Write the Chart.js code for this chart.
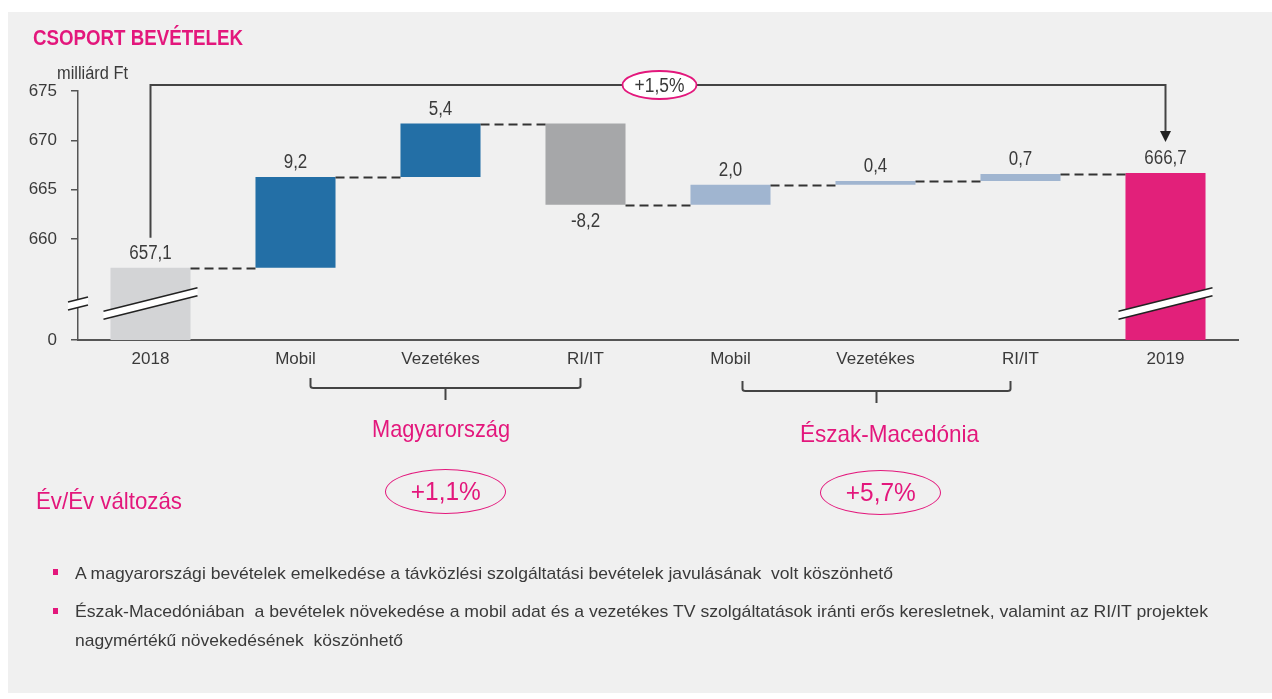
<!DOCTYPE html>
<html>
<head>
<meta charset="utf-8">
<script src="https://cdn.jsdelivr.net/npm/chart.js@4.4.1/dist/chart.umd.min.js"></script>
<style>
  html, body { margin:0; padding:0; width:1272px; height:699px; background:#ffffff; overflow:hidden; }
  body { position:relative; font-family:"Liberation Sans", Arial, Helvetica, sans-serif; }
  #panel { position:absolute; left:8px; top:12px; width:1264px; height:681px; background:#f0f0f0; }
  #c { position:absolute; left:0; top:0; }
  .t { position:absolute; white-space:nowrap; line-height:1; transform-origin:0 50%; }
  .mag { color:#e3177c; }
  .oval { position:absolute; box-sizing:border-box; border:1.6px solid #e3177c; border-radius:50%; color:#e3177c; text-align:center; }
  .oval span { display:inline-block; transform-origin:50% 50%; }
  .bul { position:absolute; left:75px; color:#3a3a3a; font-size:17px; line-height:1; white-space:nowrap; transform-origin:0 50%; }
  .sq { position:absolute; left:53px; width:5px; height:6px; background:#e3177c; }
</style>
</head>
<body>
<div id="panel"></div>
<canvas id="c" width="1272" height="699"></canvas>

<div class="t mag fit" data-w="210" style="left:33px; top:27px; font-size:22px; font-weight:bold;">CSOPORT BEVÉTELEK</div>
<div class="t fit" data-w="71" style="left:57px; top:63px; font-size:19px; color:#3a3a3a;">milliárd Ft</div>

<div class="t mag fit" data-w="138" data-cx="441" style="top:417px; font-size:24px;">Magyarország</div>
<div class="t mag fit" data-w="179" data-cx="889.5" style="top:422px; font-size:24px;">Észak-Macedónia</div>
<div class="t mag fit" data-w="146" style="left:36px; top:489px; font-size:24px;">Év/Év változás</div>
<div class="oval" style="left:385px; top:469px; width:121px; height:45px; font-size:25px; line-height:42px;"><span class="fit" data-w="70">+1,1%</span></div>
<div class="oval" style="left:820px; top:470px; width:121px; height:45px; font-size:25px; line-height:42px;"><span class="fit" data-w="70">+5,7%</span></div>

<div class="sq" style="top:569px;"></div>
<div class="bul fit" data-w="818" style="top:565px;">A magyarországi bevételek emelkedése a távközlési szolgáltatási bevételek javulásának&nbsp; volt köszönhető</div>
<div class="sq" style="top:608px;"></div>
<div class="bul fit" data-w="1133" style="top:603px;">Észak-Macedóniában&nbsp; a bevételek növekedése a mobil adat és a vezetékes TV szolgáltatások iránti erős keresletnek, valamint az RI/IT projektek</div>
<div class="bul fit" data-w="328" style="top:632px;">nagymértékű növekedésének&nbsp; köszönhető</div>

<script>
// ---------- data ----------
const categories = ['2018', 'Mobil', 'Vezetékes', 'RI/IT', 'Mobil', 'Vezetékes', 'RI/IT', '2019'];
const changes    = [657.1, 9.2, 5.4, -8.2, 2.0, 0.4, 0.7, 666.7];
const isTotal    = [true, false, false, false, false, false, false, true];
const valueLabels = ['657,1', '9,2', '5,4', '-8,2', '2,0', '0,4', '0,7', '666,7'];
const yTickValues = [660, 665, 670, 675];
const axisBaseValue = 649.8;   // the broken-axis "0"
const axisBaseLabel = '0';
const axisBreakValue = 653.5;
const totalChangeLabel = '+1,5%';
const groupHU = [1, 3];
const groupMK = [4, 6];

// ---------- styles ----------
const barColors = ['#d3d4d6', '#236fa6', '#236fa6', '#a6a7a9', '#a0b5d0', '#a0b5d0', '#a0b5d0', '#e2207a'];
const FONT = '"Liberation Sans", Arial, Helvetica, sans-serif';
const MAG = '#e3177c';
const NARROW = 0.87;

// narrow-looking HTML text
document.querySelectorAll('.fit').forEach(el => {
  const w = el.getBoundingClientRect().width;
  const target = parseFloat(el.dataset.w);
  el.style.transform = 'scaleX(' + (target / w) + ')';
  if (el.dataset.cx) el.style.left = (parseFloat(el.dataset.cx) - target / 2) + 'px';
});

// build floating ranges
const ranges = [];
const ends = [];
let run = 0;
changes.forEach((v, i) => {
  if (isTotal[i]) { ranges.push([axisBaseValue, v]); run = v; }
  else { ranges.push([run, run + v]); run = run + v; }
  ends.push(run);
});

function narrowText(ctx, text, x, y) {
  ctx.save();
  ctx.scale(NARROW, 1);
  ctx.fillText(text, x / NARROW, y);
  ctx.restore();
}

function breakBand(ctx, x1, x2, yc, slope, gap) {
  const y1 = yc - slope * (x1 - (x1 + x2) / 2);
  const y2 = yc - slope * (x2 - (x1 + x2) / 2);
  ctx.save();
  ctx.beginPath();
  ctx.moveTo(x1, y1 - gap / 2); ctx.lineTo(x2, y2 - gap / 2);
  ctx.lineTo(x2, y2 + gap / 2); ctx.lineTo(x1, y1 + gap / 2); ctx.closePath();
  ctx.fillStyle = '#ffffff'; ctx.fill();
  ctx.strokeStyle = '#222'; ctx.lineWidth = 1.5;
  ctx.beginPath(); ctx.moveTo(x1, y1 - gap / 2); ctx.lineTo(x2, y2 - gap / 2); ctx.stroke();
  ctx.beginPath(); ctx.moveTo(x1, y1 + gap / 2); ctx.lineTo(x2, y2 + gap / 2); ctx.stroke();
  ctx.restore();
}

const waterfall = {
  id: 'waterfall',
  afterDraw(chart) {
    const ctx = chart.ctx;
    const ys = chart.scales.y;
    const area = chart.chartArea;
    const bars = chart.getDatasetMeta(0).data;
    const top = b => Math.min(b.y, b.base);
    const bot = b => Math.max(b.y, b.base);

    // dashed connectors
    ctx.save();
    ctx.strokeStyle = '#333'; ctx.lineWidth = 2; ctx.setLineDash([9, 5]);
    for (let i = 0; i < bars.length - 1; i++) {
      const y = Math.round(ys.getPixelForValue(ends[i])) + 0.5;
      ctx.beginPath();
      ctx.moveTo(bars[i].x + bars[i].width / 2, y);
      ctx.lineTo(bars[i + 1].x - bars[i + 1].width / 2, y);
      ctx.stroke();
    }
    ctx.restore();

    // value labels
    ctx.save();
    ctx.font = '19.5px ' + FONT; ctx.fillStyle = '#3a3a3a';
    ctx.textAlign = 'center'; ctx.textBaseline = 'middle';
    bars.forEach((b, i) => {
      if (changes[i] < 0) narrowText(ctx, valueLabels[i], b.x, bot(b) + 17);
      else narrowText(ctx, valueLabels[i], b.x, top(b) - 14);
    });
    ctx.restore();

    // axis breaks
    const yb = ys.getPixelForValue(axisBreakValue);
    breakBand(ctx, area.left - 10, area.left + 10, yb, 0.25, 8);
    [0, bars.length - 1].forEach(i => {
      const b = bars[i];
      breakBand(ctx, b.x - b.width / 2 - 7, b.x + b.width / 2 + 7, yb, 0.25, 8);
    });

    // overall change connector
    const b0 = bars[0], bN = bars[bars.length - 1];
    const yLine = area.top - 6;
    ctx.save();
    ctx.strokeStyle = '#444'; ctx.lineWidth = 2;
    ctx.beginPath();
    ctx.moveTo(b0.x, top(b0) - 30);
    ctx.lineTo(b0.x, yLine);
    ctx.lineTo(bN.x, yLine);
    ctx.lineTo(bN.x, top(bN) - 40);
    ctx.stroke();
    ctx.fillStyle = '#222';
    ctx.beginPath();
    ctx.moveTo(bN.x, top(bN) - 31);
    ctx.lineTo(bN.x - 5.5, top(bN) - 42);
    ctx.lineTo(bN.x + 5.5, top(bN) - 42);
    ctx.closePath(); ctx.fill();
    // ellipse label
    const ex = (b0.x + bN.x) / 2 + 1.5;
    ctx.beginPath();
    ctx.ellipse(ex, yLine, 37, 14, 0, 0, Math.PI * 2);
    ctx.fillStyle = '#ffffff'; ctx.fill();
    ctx.strokeStyle = MAG; ctx.lineWidth = 1.8; ctx.stroke();
    ctx.font = '20px ' + FONT; ctx.fillStyle = '#3a3a3a';
    ctx.textAlign = 'center'; ctx.textBaseline = 'middle';
    narrowText(ctx, totalChangeLabel, ex, yLine + 1);
    ctx.restore();

    // group brackets
    const bracket = (xl, xr, y) => {
      const xm = (xl + xr) / 2;
      ctx.save();
      ctx.strokeStyle = '#444'; ctx.lineWidth = 2; ctx.lineJoin = 'round';
      ctx.beginPath();
      ctx.moveTo(xl, y - 10); ctx.lineTo(xl, y - 2);
      ctx.quadraticCurveTo(xl, y, xl + 3, y);
      ctx.lineTo(xr - 3, y);
      ctx.quadraticCurveTo(xr, y, xr, y - 2);
      ctx.lineTo(xr, y - 10);
      ctx.stroke();
      ctx.beginPath(); ctx.moveTo(xm, y); ctx.lineTo(xm, y + 12); ctx.stroke();
      ctx.restore();
    };
    bracket(bars[groupHU[0]].x + 15, bars[groupHU[1]].x - 5, 388);
    bracket(bars[groupMK[0]].x + 12, bars[groupMK[1]].x - 10, 391);
  }
};

new Chart(document.getElementById('c').getContext('2d'), {
  type: 'bar',
  data: {
    labels: categories,
    datasets: [{
      data: ranges,
      backgroundColor: barColors,
      barPercentage: 0.552,
      categoryPercentage: 1,
      borderWidth: 0,
      borderSkipped: false
    }]
  },
  options: {
    responsive: false,
    animation: false,
    devicePixelRatio: 1,
    layout: { padding: { left: 0, top: 91, right: 34, bottom: 329 } },
    plugins: { legend: { display: false }, tooltip: { enabled: false } },
    scales: {
      x: {
        grid: { display: false, drawTicks: false },
        border: { display: true, color: '#555', width: 2 },
        ticks: { font: { family: FONT, size: 17 }, color: '#3a3a3a', padding: 9, maxRotation: 0, autoSkip: false },
        afterFit(s) { s.height = 30; }
      },
      y: {
        min: axisBaseValue,
        max: 675,
        afterBuildTicks(s) { s.ticks = [axisBaseValue, ...yTickValues].map(v => ({ value: v })); },
        ticks: {
          font: { family: FONT, size: 17 }, color: '#3a3a3a', padding: 14,
          callback: v => (Math.abs(v - axisBaseValue) < 1e-6 ? axisBaseLabel : String(v))
        },
        grid: { drawOnChartArea: false, drawTicks: true, tickLength: 7, color: '#555', lineWidth: 1.5 },
        border: { display: true, color: '#555', width: 1.5 },
        afterFit(s) { s.width = 78; }
      }
    }
  },
  plugins: [waterfall]
});
</script>
</body>
</html>
